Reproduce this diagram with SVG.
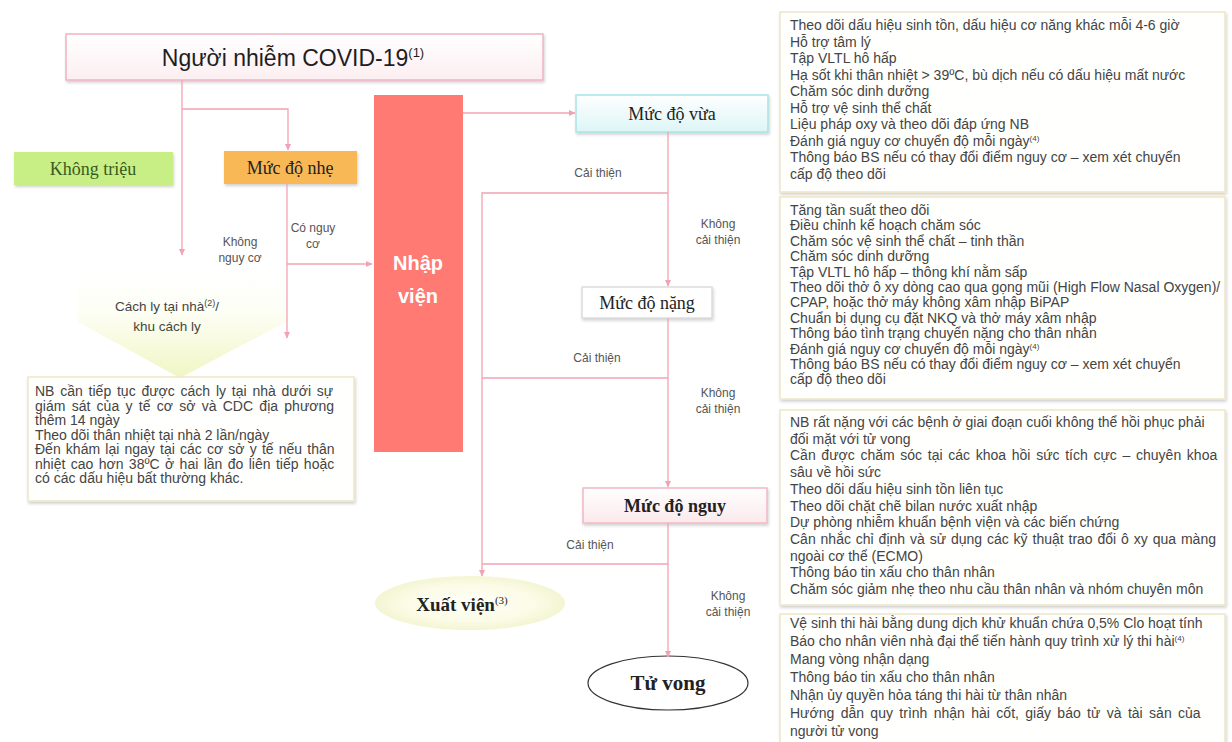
<svg xmlns="http://www.w3.org/2000/svg" width="1232" height="742" viewBox="0 0 1232 742">
<defs>
<style>
.c{fill:none;stroke:#F2A3B3;stroke-width:1.3}
.lbl{font-family:"Liberation Sans",Arial,sans-serif;font-size:12px;fill:#555;text-anchor:middle}
.sm{font-family:"Liberation Sans",Arial,sans-serif;font-size:14px;fill:#444}
.sr{font-family:"Liberation Serif","Times New Roman",serif;font-size:18px;fill:#222;text-anchor:middle}
.box{fill:#FFFFFD;stroke:#EFE6C6;stroke-width:1.5}
</style>
<marker id="ah" markerWidth="7" markerHeight="7" refX="6" refY="3.5" orient="auto" markerUnits="userSpaceOnUse">
<path d="M0,0.5 L6.5,3.5 L0,6.5 Z" fill="#F2A3B3"/>
</marker>
<linearGradient id="gTop" x1="0" y1="0" x2="0" y2="1"><stop offset="0" stop-color="#FFFFFF"/><stop offset="1" stop-color="#FCEEF1"/></linearGradient>
<linearGradient id="gCyan" x1="0" y1="0" x2="0" y2="1"><stop offset="0" stop-color="#FFFFFF"/><stop offset="1" stop-color="#DDF5F6"/></linearGradient>
<linearGradient id="gPink" x1="0" y1="0" x2="0" y2="1"><stop offset="0" stop-color="#FFFFFF"/><stop offset="1" stop-color="#FBE9EC"/></linearGradient>
<linearGradient id="gChev" x1="0" y1="0" x2="0" y2="1"><stop offset="0" stop-color="#FFFFFF"/><stop offset="0.4" stop-color="#FDFEF4"/><stop offset="1" stop-color="#F1F6C4"/></linearGradient>
<radialGradient id="gXuat" cx="0.5" cy="0.5" r="0.5"><stop offset="0" stop-color="#FFFFF8"/><stop offset="0.7" stop-color="#FBFBE6"/><stop offset="1" stop-color="#F3F5D2"/></radialGradient>
<filter id="sh" x="-10%" y="-20%" width="120%" height="150%"><feDropShadow dx="1" dy="2" stdDeviation="1.5" flood-color="#000" flood-opacity="0.18"/></filter>
</defs>
<rect width="1232" height="742" fill="#FFFFFF"/>

<g id="node-covid">
<rect x="66" y="34" width="477" height="46" fill="url(#gTop)" stroke="#F0B3C2" stroke-width="1.5" filter="url(#sh)"/>
<text x="293" y="66" font-family="'Liberation Sans',Arial,sans-serif" font-size="23" fill="#1e1e1e" text-anchor="middle">Người nhiễm COVID-19<tspan font-size="13" dy="-9">(1)</tspan></text>
</g>

<g id="node-khong-trieu">
<rect x="14" y="152" width="159" height="33" fill="#C8EF86" filter="url(#sh)"/>
<text class="sr" x="93" y="175" style="fill:#3A5A1E">Không triệu</text>
</g>

<g id="node-nhe">
<rect x="224" y="151" width="133" height="33" fill="#F8B856" filter="url(#sh)"/>
<text class="sr" x="290" y="174">Mức độ nhẹ</text>
</g>

<g id="node-cach-ly">
<polygon points="78,270 286,270 286,322 180,378 78,322" fill="url(#gChev)"/>
<text x="167" y="311" font-family="'Liberation Sans',Arial,sans-serif" font-size="13.5" fill="#444" text-anchor="middle">Cách ly tại nhà<tspan font-size="9" dy="-5">(2)</tspan><tspan dy="5">/</tspan></text>
<text x="167" y="331" font-family="'Liberation Sans',Arial,sans-serif" font-size="13.5" fill="#444" text-anchor="middle">khu cách ly</text>
</g>

<g id="node-cach-ly-note">
<rect class="box" x="28" y="377" width="326" height="124" filter="url(#sh)"/>
<text class="sm" x="35" y="396" word-spacing="1.9">NB cần tiếp tục được cách ly tại nhà dưới sự</text>
<text class="sm" x="35" y="410.5" word-spacing="2.4">giám sát của y tế cơ sở và CDC địa phương</text>
<text class="sm" x="35" y="425">thêm 14 ngày</text>
<text class="sm" x="35" y="439.5">Theo dõi thân nhiệt tại nhà 2 lần/ngày</text>
<text class="sm" x="35" y="454" word-spacing="1.3">Đến khám lại ngay tại các cơ sở y tế nếu thân</text>
<text class="sm" x="35" y="468.5" word-spacing="1.5">nhiệt cao hơn 38ºC ở hai lần đo liên tiếp hoặc</text>
<text class="sm" x="35" y="483">có các dấu hiệu bất thường khác.</text>
</g>

<g id="node-nhap-vien">
<rect x="374" y="95" width="89" height="357" fill="#FF7A72"/>
<text x="418" y="270" font-family="'Liberation Sans',Arial,sans-serif" font-size="20" font-weight="bold" fill="#FFFFFF" text-anchor="middle">Nhập</text>
<text x="418" y="303" font-family="'Liberation Sans',Arial,sans-serif" font-size="20" font-weight="bold" fill="#FFFFFF" text-anchor="middle">viện</text>
</g>

<g id="node-vua">
<rect x="576" y="95" width="192" height="37" fill="url(#gCyan)" stroke="#A9E3E6" stroke-width="1.5" filter="url(#sh)"/>
<text class="sr" x="672" y="120">Mức độ vừa</text>
</g>

<g id="node-nang">
<rect x="582" y="287" width="130" height="31" fill="#FFFFFF" stroke="#D4D4D4" stroke-width="1.2" filter="url(#sh)"/>
<text class="sr" x="647" y="309">Mức độ nặng</text>
</g>

<g id="node-nguy">
<rect x="583" y="488" width="184" height="35" fill="url(#gPink)" stroke="#F2B8C4" stroke-width="1.5" filter="url(#sh)"/>
<text class="sr" x="675" y="512" font-weight="bold">Mức độ nguy</text>
</g>

<g id="node-xuat-vien">
<ellipse cx="470" cy="603" rx="95" ry="27" fill="url(#gXuat)"/>
<text x="462" y="611" font-family="'Liberation Serif','Times New Roman',serif" font-size="19" font-weight="bold" fill="#222" text-anchor="middle">Xuất viện<tspan font-size="11" font-weight="normal" dy="-7">(3)</tspan></text>
</g>

<g id="node-tu-vong">
<ellipse cx="668" cy="683" rx="80" ry="27" fill="#FFFFFF" stroke="#333" stroke-width="1.2"/>
<text x="668" y="690" font-family="'Liberation Serif','Times New Roman',serif" font-size="21" font-weight="bold" fill="#222" text-anchor="middle">Tử vong</text>
</g>

<g id="note-vua">
<rect class="box" x="780" y="12" width="445" height="180" filter="url(#sh)"/>
<text class="sm" x="790" y="30">Theo dõi dấu hiệu sinh tồn, dấu hiệu cơ năng khác mỗi 4-6 giờ</text>
<text class="sm" x="790" y="46.5">Hỗ trợ tâm lý</text>
<text class="sm" x="790" y="63">Tập VLTL hô hấp</text>
<text class="sm" x="790" y="79.5">Hạ sốt khi thân nhiệt &gt; 39ºC, bù dịch nếu có dấu hiệu mất nước</text>
<text class="sm" x="790" y="96">Chăm sóc dinh dưỡng</text>
<text class="sm" x="790" y="112.5">Hỗ trợ vệ sinh thể chất</text>
<text class="sm" x="790" y="129">Liệu pháp oxy và theo dõi đáp ứng NB</text>
<text class="sm" x="790" y="145.5">Đánh giá nguy cơ chuyển độ mỗi ngày<tspan font-size="8" dy="-5">(4)</tspan></text>
<text class="sm" x="790" y="162">Thông báo BS nếu có thay đổi điểm nguy cơ – xem xét chuyển</text>
<text class="sm" x="790" y="178.5">cấp độ theo dõi</text>
</g>

<g id="note-nang">
<rect class="box" x="780" y="197" width="445" height="202" filter="url(#sh)"/>
<text class="sm" x="790" y="215">Tăng tần suất theo dõi</text>
<text class="sm" x="790" y="230.4">Điều chỉnh kế hoạch chăm sóc</text>
<text class="sm" x="790" y="245.8">Chăm sóc vệ sinh thể chất – tinh thần</text>
<text class="sm" x="790" y="261.2">Chăm sóc dinh dưỡng</text>
<text class="sm" x="790" y="276.6">Tập VLTL hô hấp – thông khí nằm sấp</text>
<text class="sm" x="790" y="292">Theo dõi thở ô xy dòng cao qua gọng mũi (High Flow Nasal Oxygen)/</text>
<text class="sm" x="790" y="307.4">CPAP, hoặc thở máy không xâm nhập BiPAP</text>
<text class="sm" x="790" y="322.8">Chuẩn bị dụng cụ đặt NKQ và thở máy xâm nhập</text>
<text class="sm" x="790" y="338.2">Thông báo tình trạng chuyển nặng cho thân nhân</text>
<text class="sm" x="790" y="353.6">Đánh giá nguy cơ chuyển độ mỗi ngày<tspan font-size="8" dy="-5">(4)</tspan></text>
<text class="sm" x="790" y="369">Thông báo BS nếu có thay đổi điểm nguy cơ – xem xét chuyển</text>
<text class="sm" x="790" y="384.4">cấp độ theo dõi</text>
</g>

<g id="note-nguy">
<rect class="box" x="780" y="410" width="445" height="195" filter="url(#sh)"/>
<text class="sm" x="790" y="427">NB rất nặng với các bệnh ở giai đoạn cuối không thể hồi phục phải</text>
<text class="sm" x="790" y="443.7">đối mặt với tử vong</text>
<text class="sm" x="790" y="460.4" word-spacing="1.8">Cần được chăm sóc tại các khoa hồi sức tích cực – chuyên khoa</text>
<text class="sm" x="790" y="477.1">sâu về hồi sức</text>
<text class="sm" x="790" y="493.8">Theo dõi dấu hiệu sinh tồn liên tục</text>
<text class="sm" x="790" y="510.5">Theo dõi chặt chẽ bilan nước xuất nhập</text>
<text class="sm" x="790" y="527.2">Dự phòng nhiễm khuẩn bệnh viện và các biến chứng</text>
<text class="sm" x="790" y="543.9" word-spacing="1">Cân nhắc chỉ định và sử dụng các kỹ thuật trao đổi ô xy qua màng</text>
<text class="sm" x="790" y="560.6">ngoài cơ thể (ECMO)</text>
<text class="sm" x="790" y="577.3">Thông báo tin xấu cho thân nhân</text>
<text class="sm" x="790" y="594">Chăm sóc giảm nhẹ theo nhu cầu thân nhân và nhóm chuyên môn</text>
</g>

<g id="note-tu-vong">
<rect class="box" x="780" y="614" width="445" height="135" filter="url(#sh)"/>
<text class="sm" x="790" y="628">Vệ sinh thi hài bằng dung dịch khử khuẩn chứa 0,5% Clo hoạt tính</text>
<text class="sm" x="790" y="646">Báo cho nhân viên nhà đại thể tiến hành quy trình xử lý thi hài<tspan font-size="8" dy="-5">(4)</tspan></text>
<text class="sm" x="790" y="664">Mang vòng nhận dạng</text>
<text class="sm" x="790" y="682">Thông báo tin xấu cho thân nhân</text>
<text class="sm" x="790" y="700">Nhận ủy quyền hỏa táng thi hài từ thân nhân</text>
<text class="sm" x="790" y="718" word-spacing="2.5">Hướng dẫn quy trình nhận hài cốt, giấy báo tử và tài sản của</text>
<text class="sm" x="790" y="736">người tử vong</text>
</g>

<g id="connectors">
<path class="c" d="M182,80 V255" marker-end="url(#ah)"/>
<path class="c" d="M182,109 H288 V150" marker-end="url(#ah)"/>
<path class="c" d="M287,184 V338" marker-end="url(#ah)"/>
<path class="c" d="M287,264 H372" marker-end="url(#ah)"/>
<path class="c" d="M463,113 H575" marker-end="url(#ah)"/>
<path class="c" d="M668,132 V286" marker-end="url(#ah)"/>
<path class="c" d="M668,193 H482 V576" marker-end="url(#ah)"/>
<path class="c" d="M668,318 V487" marker-end="url(#ah)"/>
<path class="c" d="M668,378 H482"/>
<path class="c" d="M668,523 V657" marker-end="url(#ah)"/>
<path class="c" d="M668,564 H482"/>
<text class="lbl" x="240" y="246">Không</text>
<text class="lbl" x="240" y="262">nguy cơ</text>
<text class="lbl" x="313" y="232">Có nguy</text>
<text class="lbl" x="313" y="248">cơ</text>
<text class="lbl" x="598" y="177">Cải thiện</text>
<text class="lbl" x="718" y="228">Không</text>
<text class="lbl" x="718" y="244">cải thiện</text>
<text class="lbl" x="597" y="362">Cải thiện</text>
<text class="lbl" x="718" y="397">Không</text>
<text class="lbl" x="718" y="413">cải thiện</text>
<text class="lbl" x="590" y="549">Cải thiện</text>
<text class="lbl" x="728" y="600">Không</text>
<text class="lbl" x="728" y="616">cải thiện</text>
</g>
</svg>
